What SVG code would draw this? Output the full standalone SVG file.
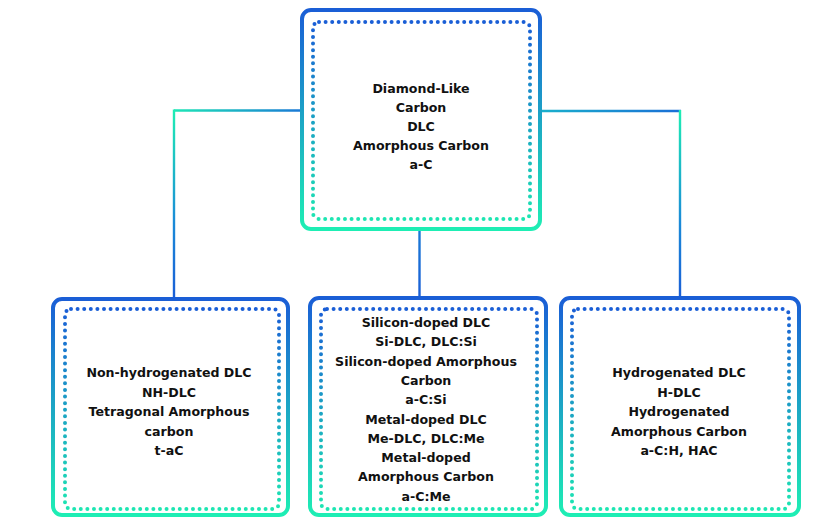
<svg xmlns="http://www.w3.org/2000/svg" width="822" height="517" viewBox="0 0 822 517">
<defs>
<linearGradient id="gBox" x1="0" y1="0" x2="0" y2="1">
<stop offset="0" stop-color="#1a5ed6"/>
<stop offset="1" stop-color="#1eeeb4"/>
</linearGradient>
<linearGradient id="gDot" x1="0" y1="0" x2="0" y2="1">
<stop offset="0" stop-color="#1a5ed6"/>
<stop offset="1" stop-color="#1de6b2"/>
</linearGradient>
<linearGradient id="gVertL" gradientUnits="userSpaceOnUse" x1="0" y1="110" x2="0" y2="298">
<stop offset="0" stop-color="#1eeeb4"/>
<stop offset="0.6" stop-color="#1a8ad8"/>
<stop offset="1" stop-color="#1a5ed6"/>
</linearGradient>
<linearGradient id="gHorL" gradientUnits="userSpaceOnUse" x1="174" y1="0" x2="301" y2="0">
<stop offset="0" stop-color="#1ee6b6"/>
<stop offset="1" stop-color="#1a78d6"/>
</linearGradient>
<linearGradient id="gHorR" gradientUnits="userSpaceOnUse" x1="541" y1="0" x2="681" y2="0">
<stop offset="0" stop-color="#1ab0cc"/>
<stop offset="1" stop-color="#1a6ed6"/>
</linearGradient>
<linearGradient id="gMid" gradientUnits="userSpaceOnUse" x1="0" y1="230" x2="0" y2="298">
<stop offset="0" stop-color="#1a7ad6"/>
<stop offset="1" stop-color="#1a5ed6"/>
</linearGradient>
</defs>
<style>
.outer{fill:#fff;stroke:url(#gBox);stroke-width:4}
.inner{fill:none;stroke:url(#gDot);stroke-width:4;stroke-linecap:round;stroke-dasharray:0 6.6}
.t{font-family:"DejaVu Sans","Liberation Sans",sans-serif;font-weight:bold;font-size:12.6px;fill:#111;text-anchor:middle}
.c{fill:none;stroke-width:2.4}
</style>
<rect width="822" height="517" fill="#fff"/>
<g id="connectors">
<line class="c" x1="174" y1="110.5" x2="302" y2="110.5" stroke="url(#gHorL)"/>
<line class="c" x1="174" y1="109.5" x2="174" y2="299" stroke="url(#gVertL)"/>
<line class="c" x1="540" y1="111" x2="681" y2="111" stroke="url(#gHorR)"/>
<line class="c" x1="680" y1="110" x2="680" y2="299" stroke="url(#gVertL)"/>
<line class="c" x1="419.5" y1="229" x2="419.5" y2="299" stroke="url(#gMid)"/>
</g>
<g id="node-top">
<rect class="outer" x="302" y="10" width="238" height="219" rx="9"/>
<rect class="inner" x="313" y="22" width="217" height="197" rx="6"/>
<text class="t" x="421" y="93">Diamond-Like</text>
<text class="t" x="421" y="112">Carbon</text>
<text class="t" x="421" y="131">DLC</text>
<text class="t" x="421" y="150">Amorphous Carbon</text>
<text class="t" x="421" y="169">a-C</text>
</g>
<g id="node-nh">
<rect class="outer" x="53" y="299" width="235" height="216" rx="9"/>
<rect class="inner" x="65" y="309" width="214" height="200" rx="6"/>
<text class="t" x="169" y="377">Non-hydrogenated DLC</text>
<text class="t" x="169" y="396.5">NH-DLC</text>
<text class="t" x="169" y="416">Tetragonal Amorphous</text>
<text class="t" x="169" y="435.5">carbon</text>
<text class="t" x="169" y="455">t-aC</text>
</g>
<g id="node-doped">
<rect class="outer" x="310" y="298" width="236" height="217" rx="9"/>
<rect class="inner" x="321" y="309" width="216" height="200" rx="6"/>
<text class="t" x="426" y="327">Silicon-doped DLC</text>
<text class="t" x="426" y="346.3">Si-DLC, DLC:Si</text>
<text class="t" x="426" y="365.6">Silicon-doped Amorphous</text>
<text class="t" x="426" y="384.9">Carbon</text>
<text class="t" x="426" y="404.2">a-C:Si</text>
<text class="t" x="426" y="423.5">Metal-doped DLC</text>
<text class="t" x="426" y="442.8">Me-DLC, DLC:Me</text>
<text class="t" x="426" y="462.1">Metal-doped</text>
<text class="t" x="426" y="481.4">Amorphous Carbon</text>
<text class="t" x="426" y="500.7">a-C:Me</text>
</g>
<g id="node-h">
<rect class="outer" x="561" y="298" width="238" height="217" rx="9"/>
<rect class="inner" x="572" y="309" width="217" height="200" rx="6"/>
<text class="t" x="679" y="377">Hydrogenated DLC</text>
<text class="t" x="679" y="396.5">H-DLC</text>
<text class="t" x="679" y="416">Hydrogenated</text>
<text class="t" x="679" y="435.5">Amorphous Carbon</text>
<text class="t" x="679" y="455">a-C:H, HAC</text>
</g>
</svg>
